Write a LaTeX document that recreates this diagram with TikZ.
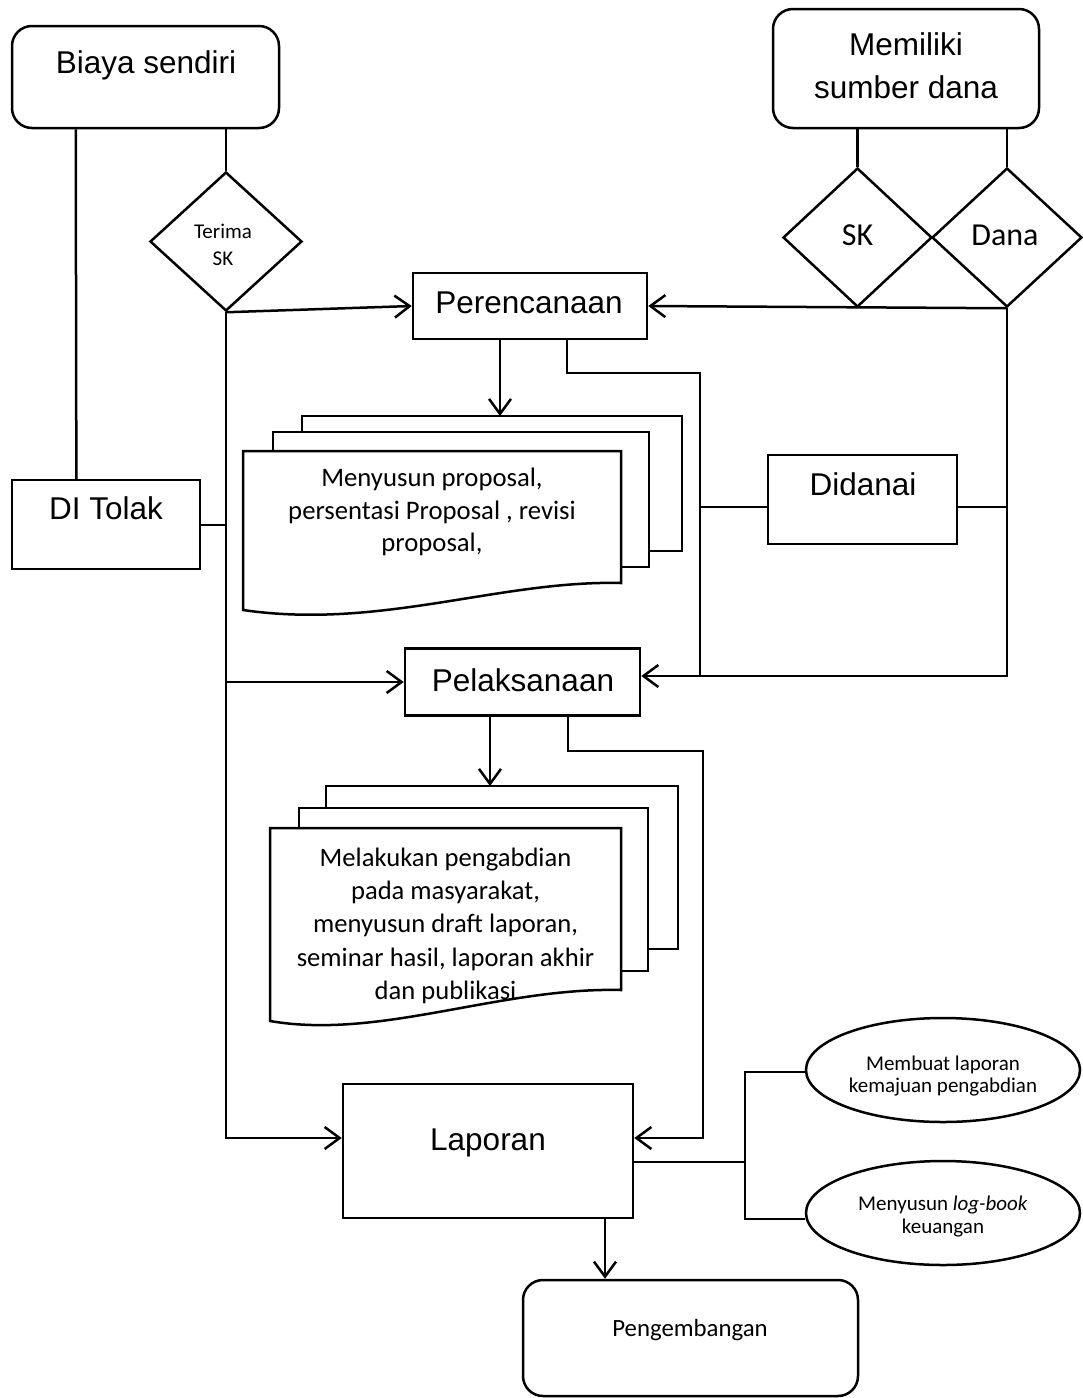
\documentclass[tikz,border=0pt]{standalone}
\usepackage{fontspec}
\newfontfamily\arialf{Liberation Sans}
\newfontfamily\calf{Carlito}
\usetikzlibrary{shapes.geometric,arrows.meta,calc}
% centred multi-line text whose baseline is the first line
\newcommand\stacklines[1]{\vtop{\halign{\hfil##\hfil\cr#1\crcr}}}
\begin{document}
\begin{tikzpicture}[x=1pt,y=-1pt,
  main/.style={line width=2.5pt},
  mid/.style={line width=2pt},
  box/.style={draw,line width=2.5pt,inner sep=0pt,fill=white},
  thinbox/.style={draw,line width=1.3pt,inner sep=0pt,fill=white},
  rbox/.style={draw,line width=2.5pt,inner sep=0pt,rounded corners=20pt,fill=white},
  dia/.style={draw,diamond,line width=2.5pt,inner sep=0pt},
  ell/.style={draw,ellipse,line width=2.5pt,inner sep=0pt,fill=white},
  arr/.style={line width=2.5pt,-{Straight Barb[length=15pt,width=22pt,line width=2.5pt]}},
  big/.style={anchor=base,inner sep=0pt,font=\arialf\fontsize{31.5}{43}\selectfont},
  cal/.style={anchor=base,inner sep=0pt,font=\calf\fontsize{#1}{1.22\dimexpr #1pt\relax}\selectfont},
]
\fill[white] (0,0) rectangle (1083,1398);
\useasboundingbox (0,0) rectangle (1083,1398);

% ---- shapes ----
\node[rbox,minimum width=267pt,minimum height=102pt] (bs) at (145.5,77) {};
\node[rbox,minimum width=266pt,minimum height=119pt] (ms) at (906,68.5) {};
\node[dia,minimum width=152pt,minimum height=139pt] (tsk) at (226,241.5) {};
\node[dia,minimum width=149pt,minimum height=139pt] (sk) at (857.5,237.5) {};
\node[dia,minimum width=150pt,minimum height=139pt] (dana) at (1007,237.5) {};
\node[box,minimum width=234pt,minimum height=66pt] (per) at (530,306) {};
\node[box,minimum width=235pt,minimum height=67pt] (pel) at (522.5,682) {};
\node[box,minimum width=290pt,minimum height=134pt] (lap) at (488,1151) {};
\node[thinbox,minimum width=188pt,minimum height=89pt] (tolak) at (106,524.5) {};
\node[thinbox,minimum width=189pt,minimum height=89pt] (didanai) at (862.5,499.5) {};
\node[ell,minimum width=274pt,minimum height=104pt] (e1) at (943,1070) {};
\node[ell,minimum width=274pt,minimum height=104pt] (e2) at (943,1213) {};
\node[rbox,minimum width=335pt,minimum height=116pt] (peng) at (690.5,1338) {};

% ---- stacked documents ----
\draw[main] (302,432) -- (302,416) -- (682,416) -- (682,551) -- (649,551);
\draw[main] (273,451) -- (273,432) -- (649,432) -- (649,567) -- (621,567);
\draw[main,fill=white] (243,451) -- (621,451) -- (621,583)
  .. controls (500,580) and (380,630) .. (243,610) -- cycle;

\draw[main] (326,808) -- (326,786) -- (678,786) -- (678,949) -- (648,949);
\draw[main] (299,828) -- (299,808) -- (648,808) -- (648,971) -- (621,971);
\draw[main,fill=white] (270,828) -- (621,828) -- (621,990)
  .. controls (500,987) and (380,1040) .. (270,1021) -- cycle;

% ---- junction points ----
\coordinate (d1) at (500,416);
\coordinate (d2) at (490,786);
\coordinate (busA) at (700,373);
\coordinate (busB) at (703,751);
\coordinate (busC) at (745,1162);
\coordinate (lapinL) at ($(lap.west)+(0,-13)$);
\coordinate (lapinR) at ($(lap.east)+(0,-13)$);
\coordinate (pelinR) at ($(pel.east)+(0,-6)$);
\coordinate (e1in) at ($(e1.west)+(0,2)$);
\coordinate (e2in) at ($(e2.west)+(0,6)$);

% ---- connectors ----
\draw[main] ([xshift=65pt]bs.south west) -- ([xshift=65pt]tolak.north west);
\draw[main] (bs.south -| tsk.north) -- (tsk.north);
\draw[arr] (tsk.south) -- (per.west);
\draw[arr] (tsk.south) |- (lapinL);
\draw[arr] (tsk.south |- pel.west) -- (pel.west);
\draw[mid] (tolak.east) -- (tolak.east -| tsk.south);

\draw[main] (ms.south -| sk.north) -- (sk.north);
\draw[main] (ms.south -| dana.north) -- (dana.north);
\draw[arr] (dana.south) -- (per.east);
\draw[arr] (dana.south) |- (pelinR);

\draw[arr] (per.south -| d1) -- (d1);
\draw[main] ([xshift=37pt]per.south) |- (busA) -- (busA |- pelinR);
\draw[mid] ([yshift=-7.5pt]didanai.west) -- ([yshift=-7.5pt]didanai.west -| busA);
\draw[mid] ([yshift=-7.5pt]didanai.east) -- ([yshift=-7.5pt]didanai.east -| dana.south);

\draw[arr] (pel.south -| d2) -- (d2);
\draw[arr] ([xshift=45.5pt]pel.south) |- (busB) |- (lapinR);

\draw[mid] ([yshift=-11pt]lap.east) -- (busC);
\draw[mid] (e1in) -| (busC |- e2in) -- (e2in);
\draw[arr] ([xshift=117pt]lap.south) -- ([xshift=117pt]lap.south |- peng.north);

% ---- texts ----
\node[big] (bs-t) at (146,73) {Biaya sendiri};
\node[big] (ms-t) at (906,55) {\stacklines{Memiliki\cr sumber dana}};
\node[big] (per-t) at (529,313.3) {Perencanaan};
\node[big] (pel-t) at (523,691) {Pelaksanaan};
\node[big] (did-t) at (863,495) {Didanai};
\node[big] (tol-t) at (106,519) {DI Tolak};
\node[big] (lap-t) at (488,1150) {Laporan};

\node[anchor=base,inner sep=0pt,font=\calf\fontsize{21}{27.4}\selectfont] (tsk-t) at (223,238.3) {\stacklines{Terima\cr SK}};
\node[cal=32] (sk-t) at (857.5,245) {SK};
\node[cal=32] (dana-t) at (1005,245) {Dana};
\node[anchor=base,inner sep=0pt,font=\calf\fontsize{26.7}{32.5}\selectfont] (doc1-t) at (432,486.5)
  {\stacklines{Menyusun proposal,\cr persentasi Proposal , revisi\cr proposal,}};
\node[anchor=base,inner sep=0pt,font=\calf\fontsize{26.6}{33.4}\selectfont] (doc2-t) at (445.5,866)
  {\stacklines{Melakukan pengabdian\cr pada masyarakat,\cr menyusun draft laporan,\cr seminar hasil, laporan akhir\cr dan publikasi}};
\node[anchor=base,inner sep=0pt,font=\calf\fontsize{21}{22.5}\selectfont] (e1-t) at (943,1070)
  {\stacklines{Membuat laporan\cr kemajuan pengabdian}};
\node[anchor=base,inner sep=0pt,font=\calf\fontsize{21}{23}\selectfont] (e2-t) at (943,1210.7)
  {\stacklines{Menyusun \textit{log-book}\cr keuangan}};
\node[cal=24.8] (peng-t) at (690,1336.7) {Pengembangan};
\end{tikzpicture}
\end{document}
